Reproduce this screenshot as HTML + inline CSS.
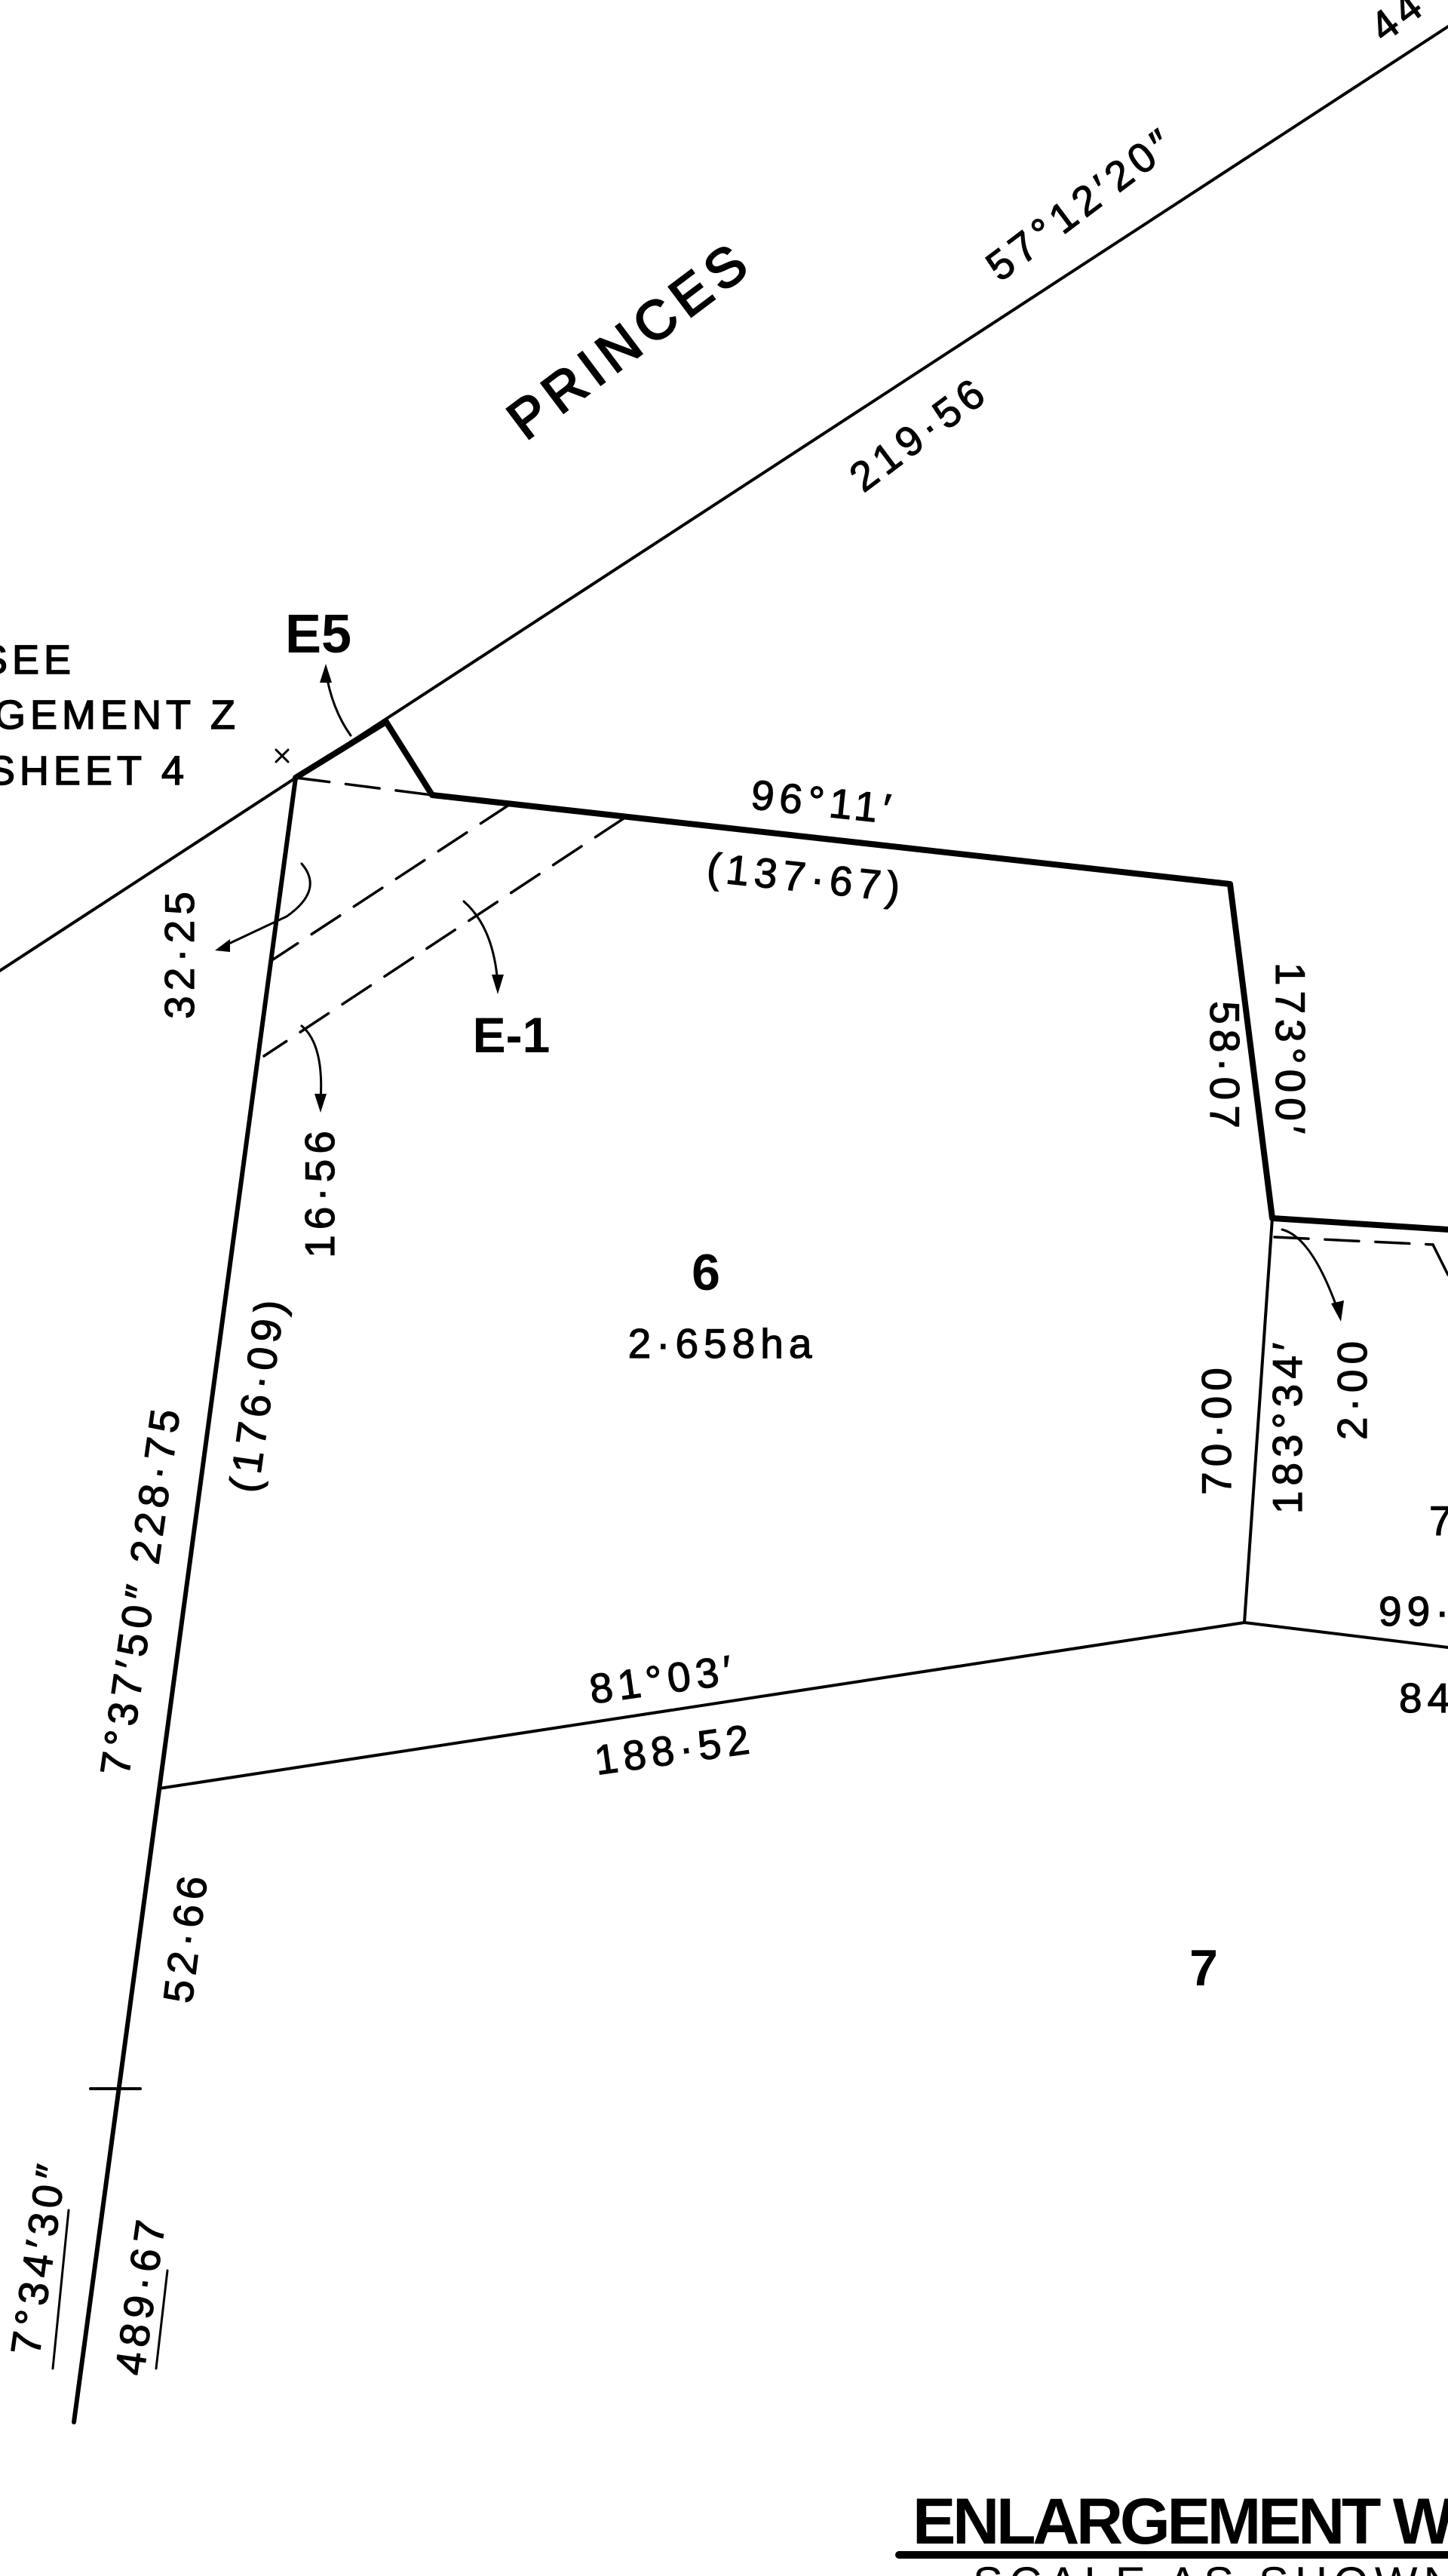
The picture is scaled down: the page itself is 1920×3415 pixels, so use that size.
<!DOCTYPE html>
<html><head><meta charset="utf-8"><style>
html,body{margin:0;padding:0;background:#fff;}
svg{display:block;}
text{font-family:"Liberation Sans",sans-serif;fill:#000;}
.t{font-size:55px;letter-spacing:7px;stroke:#000;stroke-width:1.2px;}
.b{font-weight:bold;}
</style></head><body>
<svg width="1920" height="3415" viewBox="0 0 1920 3415" xmlns="http://www.w3.org/2000/svg">
<g stroke="#000" fill="none" stroke-linecap="round">
<line x1="-5" y1="1290" x2="1925" y2="32" stroke-width="4"/>
<line x1="392" y1="1031" x2="512" y2="957" stroke-width="8"/>
<polyline points="512,957 573,1054 1631,1172 1687,1615 1920,1630" stroke-width="8" stroke-linejoin="round"/>
<line x1="392" y1="1031" x2="98" y2="3211" stroke-width="6"/>
<line x1="120" y1="2769" x2="186" y2="2769" stroke-width="4"/>
<polyline points="211,2371 1650,2151 1920,2184" stroke-width="4"/>
<line x1="1687" y1="1615" x2="1650" y2="2151" stroke-width="4"/>
<g stroke-width="3.5" stroke-dasharray="45,22">
<line x1="392" y1="1031" x2="573" y2="1054"/>
<line x1="675" y1="1067" x2="359" y2="1274"/>
<line x1="827" y1="1085" x2="350" y2="1400"/>
<line x1="1690" y1="1640" x2="1900" y2="1650"/>
</g>
<line x1="1900" y1="1650" x2="1920" y2="1690" stroke-width="3.5"/>
<path d="M465,975 Q440,940 432,890" stroke-width="3"/>
<path d="M400,1145 Q430,1180 380,1215 L295,1255" stroke-width="3"/>
<path d="M615,1195 Q655,1230 660,1305" stroke-width="3"/>
<path d="M400,1360 Q430,1385 425,1460" stroke-width="3"/>
<path d="M1700,1630 Q1740,1640 1775,1740" stroke-width="3"/>
<line x1="366" y1="994" x2="382" y2="1010" stroke-width="3"/>
<line x1="382" y1="994" x2="366" y2="1010" stroke-width="3"/>
<line x1="70" y1="3140" x2="91" y2="2930" stroke-width="3"/>
<line x1="207" y1="3140" x2="222" y2="3010" stroke-width="3"/>
<line x1="1192" y1="3387" x2="1920" y2="3387" stroke-width="10"/>
</g>
<g fill="#000">
<polygon points="432,880 424,905 440,905"/>
<polygon points="285,1260 305,1245 305,1262"/>
<polygon points="660,1318 652,1292 668,1292"/>
<polygon points="425,1475 417,1450 433,1450"/>
<polygon points="1778,1752 1765,1728 1782,1724"/>
</g>
<text class="t" transform="translate(850,470) rotate(-37)" text-anchor="middle" style="font-size:72px;letter-spacing:9px;stroke-width:2.5px">PRINCES</text>
<text class="t" transform="translate(1445,285) rotate(-37)" text-anchor="middle">57°12′20″</text>
<text class="t" transform="translate(1230,590) rotate(-37)" text-anchor="middle">219·56</text>
<text class="t" transform="translate(1865,35) rotate(-37)" text-anchor="middle">44</text>
<text class="b" x="422" y="865" text-anchor="middle" style="font-size:72px">E5</text>
<text x="100" y="893" text-anchor="end" style="font-size:54px;letter-spacing:6px;stroke:#000;stroke-width:1.5px">SEE</text>
<text x="318" y="966" text-anchor="end" style="font-size:54px;letter-spacing:6px;stroke:#000;stroke-width:1.5px">ENLARGEMENT Z</text>
<text x="250" y="1040" text-anchor="end" style="font-size:54px;letter-spacing:6px;stroke:#000;stroke-width:1.5px">SHEET 4</text>
<text class="t" transform="translate(1090,1082) rotate(6)" text-anchor="middle">96°11′</text>
<text class="t" transform="translate(1067,1182) rotate(6)" text-anchor="middle">(137·67)</text>
<text class="t" transform="translate(257,1263) rotate(-90)" text-anchor="middle">32·25</text>
<text class="b" x="678" y="1395" text-anchor="middle" style="font-size:66px">E-1</text>
<text class="t" transform="translate(443,1580) rotate(-90)" text-anchor="middle">16·56</text>
<text class="t" transform="translate(360,1850) rotate(-82)" text-anchor="middle">(176·09)</text>
<text class="t" transform="translate(205,2110) rotate(-82)" text-anchor="middle">7°37′50″  228·75</text>
<text class="t" transform="translate(265,2570) rotate(-83)" text-anchor="middle">52·66</text>
<text class="t" transform="translate(70,2995) rotate(-82)" text-anchor="middle">7°34′30″</text>
<text class="t" transform="translate(205,3045) rotate(-82)" text-anchor="middle">489·67</text>
<text class="b" x="936" y="1710" text-anchor="middle" style="font-size:68px">6</text>
<text class="t" x="958" y="1800" text-anchor="middle">2·658ha</text>
<text class="t" transform="translate(1605,1415) rotate(90)" text-anchor="middle">58·07</text>
<text class="t" transform="translate(1692,1393) rotate(90)" text-anchor="middle">173°00′</text>
<text class="t" transform="translate(1632,1894) rotate(-90)" text-anchor="middle">70·00</text>
<text class="t" transform="translate(1726,1890) rotate(-90)" text-anchor="middle">183°34′</text>
<text class="t" transform="translate(1812,1840) rotate(-90)" text-anchor="middle">2·00</text>
<text class="t" x="1895" y="2035">7</text>
<text class="t" x="1828" y="2155">99·</text>
<text class="t" x="1855" y="2270">84</text>
<text class="t" transform="translate(882,2245) rotate(-8)" text-anchor="middle">81°03′</text>
<text class="t" transform="translate(897,2338) rotate(-8)" text-anchor="middle">188·52</text>
<text class="b" x="1596" y="2632" text-anchor="middle" style="font-size:68px">7</text>
<text class="b" x="1210" y="3372" style="font-size:86px;letter-spacing:2px" textLength="720">ENLARGEMENT W</text>
<text x="1290" y="3445" style="font-size:60px;letter-spacing:8px">SCALE AS SHOWN</text>
</svg>
</body></html>
